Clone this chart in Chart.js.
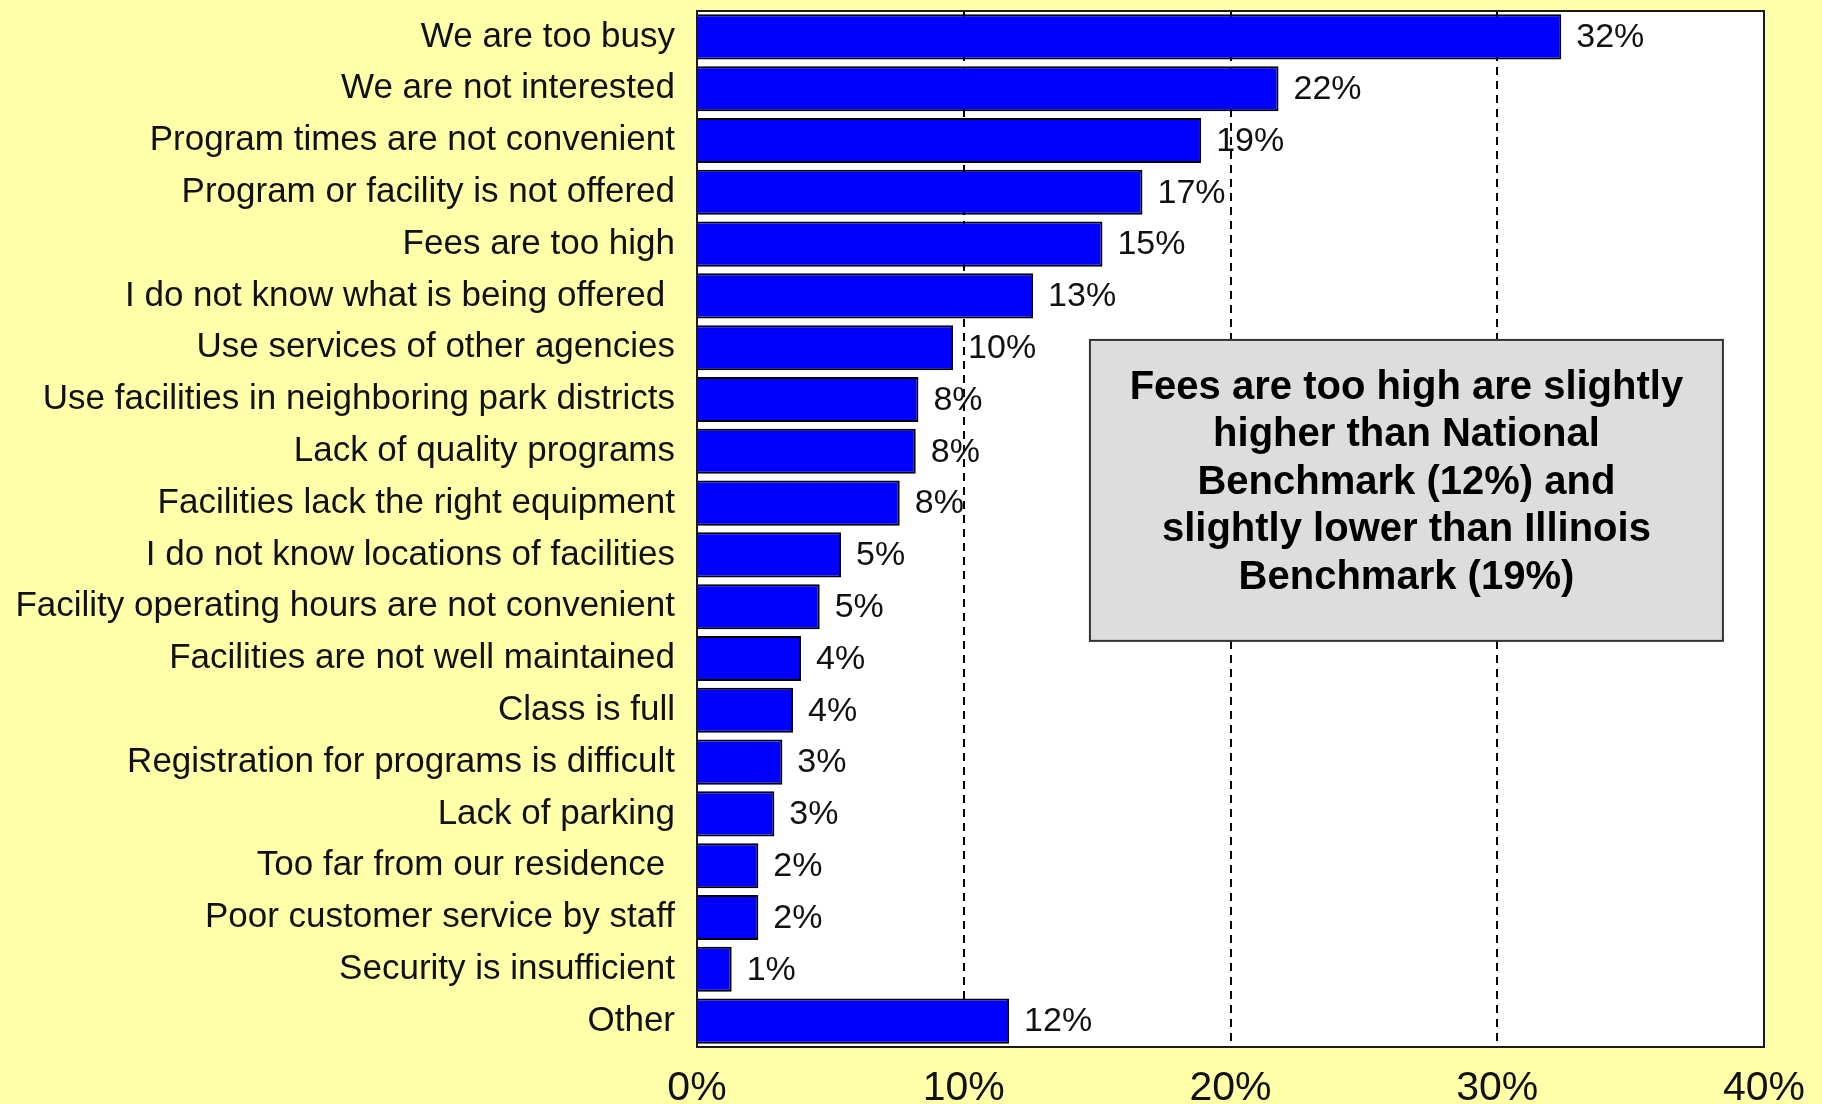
<!DOCTYPE html>
<html>
<head>
<meta charset="utf-8">
<script src="https://cdn.jsdelivr.net/npm/chart.js@4/dist/chart.umd.min.js"></script>
<style>
    body { margin: 0; background: #ffffaa; }
    canvas { display: block; }
</style>
</head>
<body>
<canvas id="chart" width="1822" height="1104"></canvas>
<script>
const categories = [
    'We are too busy',
    'We are not interested',
    'Program times are not convenient',
    'Program or facility is not offered',
    'Fees are too high',
    'I do not know what is being offered ',
    'Use services of other agencies',
    'Use facilities in neighboring park districts',
    'Lack of quality programs',
    'Facilities lack the right equipment',
    'I do not know locations of facilities',
    'Facility operating hours are not convenient',
    'Facilities are not well maintained',
    'Class is full',
    'Registration for programs is difficult',
    'Lack of parking',
    'Too far from our residence ',
    'Poor customer service by staff',
    'Security is insufficient',
    'Other'
];

const percentValues = [32.4, 21.8, 18.9, 16.7, 15.2, 12.6, 9.6, 8.3, 8.2, 7.6, 5.4, 4.6, 3.9, 3.6, 3.2, 2.9, 2.3, 2.3, 1.3, 11.7];

const percentTicks = [0, 10, 20, 30, 40];

const noteLines = [
    'Fees are too high are slightly',
    'higher than National',
    'Benchmark (12%) and',
    'slightly lower than Illinois',
    'Benchmark (19%)'
];

const FONT = '"Liberation Sans", Arial, sans-serif';

// white plot area + outline
const plotFrame = {
    id: 'plotFrame',
    beforeDraw(chart) {
        const { ctx, chartArea: a } = chart;
        ctx.save();
        ctx.fillStyle = '#ffffff';
        ctx.fillRect(a.left, a.top, a.right - a.left, a.bottom - a.top);
        ctx.restore();
    },
    afterDatasetsDraw(chart) {
        const { ctx, chartArea: a } = chart;
        ctx.save();
        ctx.strokeStyle = '#1a1a1a';
        ctx.lineWidth = 2;
        ctx.strokeRect(a.left, a.top, a.right - a.left, a.bottom - a.top);
        ctx.restore();
    }
};

// "32%" style labels next to each bar
const barLabels = {
    id: 'barLabels',
    afterDatasetsDraw(chart) {
        const { ctx } = chart;
        const meta = chart.getDatasetMeta(0);
        ctx.save();
        ctx.font = '34px ' + FONT;
        ctx.fillStyle = '#111111';
        ctx.textAlign = 'left';
        ctx.textBaseline = 'middle';
        meta.data.forEach((bar, i) => {
            ctx.fillText(Math.round(percentValues[i]) + '%', bar.x + 15, bar.y + 1);
        });
        ctx.restore();
    }
};

// grey note box
const noteBox = {
    id: 'noteBox',
    afterDraw(chart) {
        const { ctx } = chart;
        const xs = chart.scales.x;
        const ys = chart.scales.y;
        const left = xs.getPixelForValue(14.73);
        const right = xs.getPixelForValue(38.46);
        const top = ys.getPixelForValue(5.85);
        const bottom = ys.getPixelForValue(11.66);
        ctx.save();
        ctx.fillStyle = '#dddddd';
        ctx.fillRect(left, top, right - left, bottom - top);
        ctx.strokeStyle = '#333333';
        ctx.lineWidth = 2;
        ctx.strokeRect(left, top, right - left, bottom - top);
        ctx.fillStyle = '#000000';
        ctx.font = 'bold 40px ' + FONT;
        ctx.textAlign = 'center';
        ctx.textBaseline = 'middle';
        noteLines.forEach((line, i) => {
            ctx.fillText(line, (left + right) / 2, top + 48 + i * 47.5);
        });
        ctx.restore();
    }
};

const ctx = document.getElementById('chart').getContext('2d');
new Chart(ctx, {
    type: 'bar',
    data: {
        labels: categories,
        datasets: [{
            data: percentValues,
            backgroundColor: '#0000ff',
            borderColor: '#000000',
            borderWidth: 2,
            barPercentage: 0.87,
            categoryPercentage: 1
        }]
    },
    options: {
        indexAxis: 'y',
        responsive: false,
        animation: false,
        layout: {
            padding: { top: 11, right: 58, left: 0, bottom: 0 }
        },
        scales: {
            x: {
                min: percentTicks[0],
                max: percentTicks[percentTicks.length - 1],
                afterBuildTicks: scale => {
                    scale.ticks = percentTicks.map(v => ({ value: v }));
                },
                afterFit: scale => {
                    scale.height = 57;
                    scale.paddingLeft = 0;
                    scale.paddingRight = 0;
                },
                grid: {
                    drawTicks: false,
                    lineWidth: 2,
                    color: c => (c.tick && (c.tick.value === 0 || c.tick.value === 40)) ? 'rgba(0,0,0,0)' : '#000000'
                },
                border: { display: false, dash: [8, 6] },
                ticks: {
                    padding: 17,
                    color: '#111111',
                    font: { family: FONT, size: 41 },
                    callback: v => v + '%'
                }
            },
            y: {
                afterFit: scale => {
                    scale.width = 697;
                    scale.paddingTop = 0;
                    scale.paddingBottom = 0;
                },
                grid: { display: false },
                border: { display: false },
                ticks: {
                    padding: 14,
                    color: '#111111',
                    autoSkip: false,
                    font: { family: FONT, size: 35 }
                }
            }
        },
        plugins: {
            legend: { display: false },
            tooltip: { enabled: false }
        }
    },
    plugins: [plotFrame, barLabels, noteBox]
});
</script>
</body>
</html>
